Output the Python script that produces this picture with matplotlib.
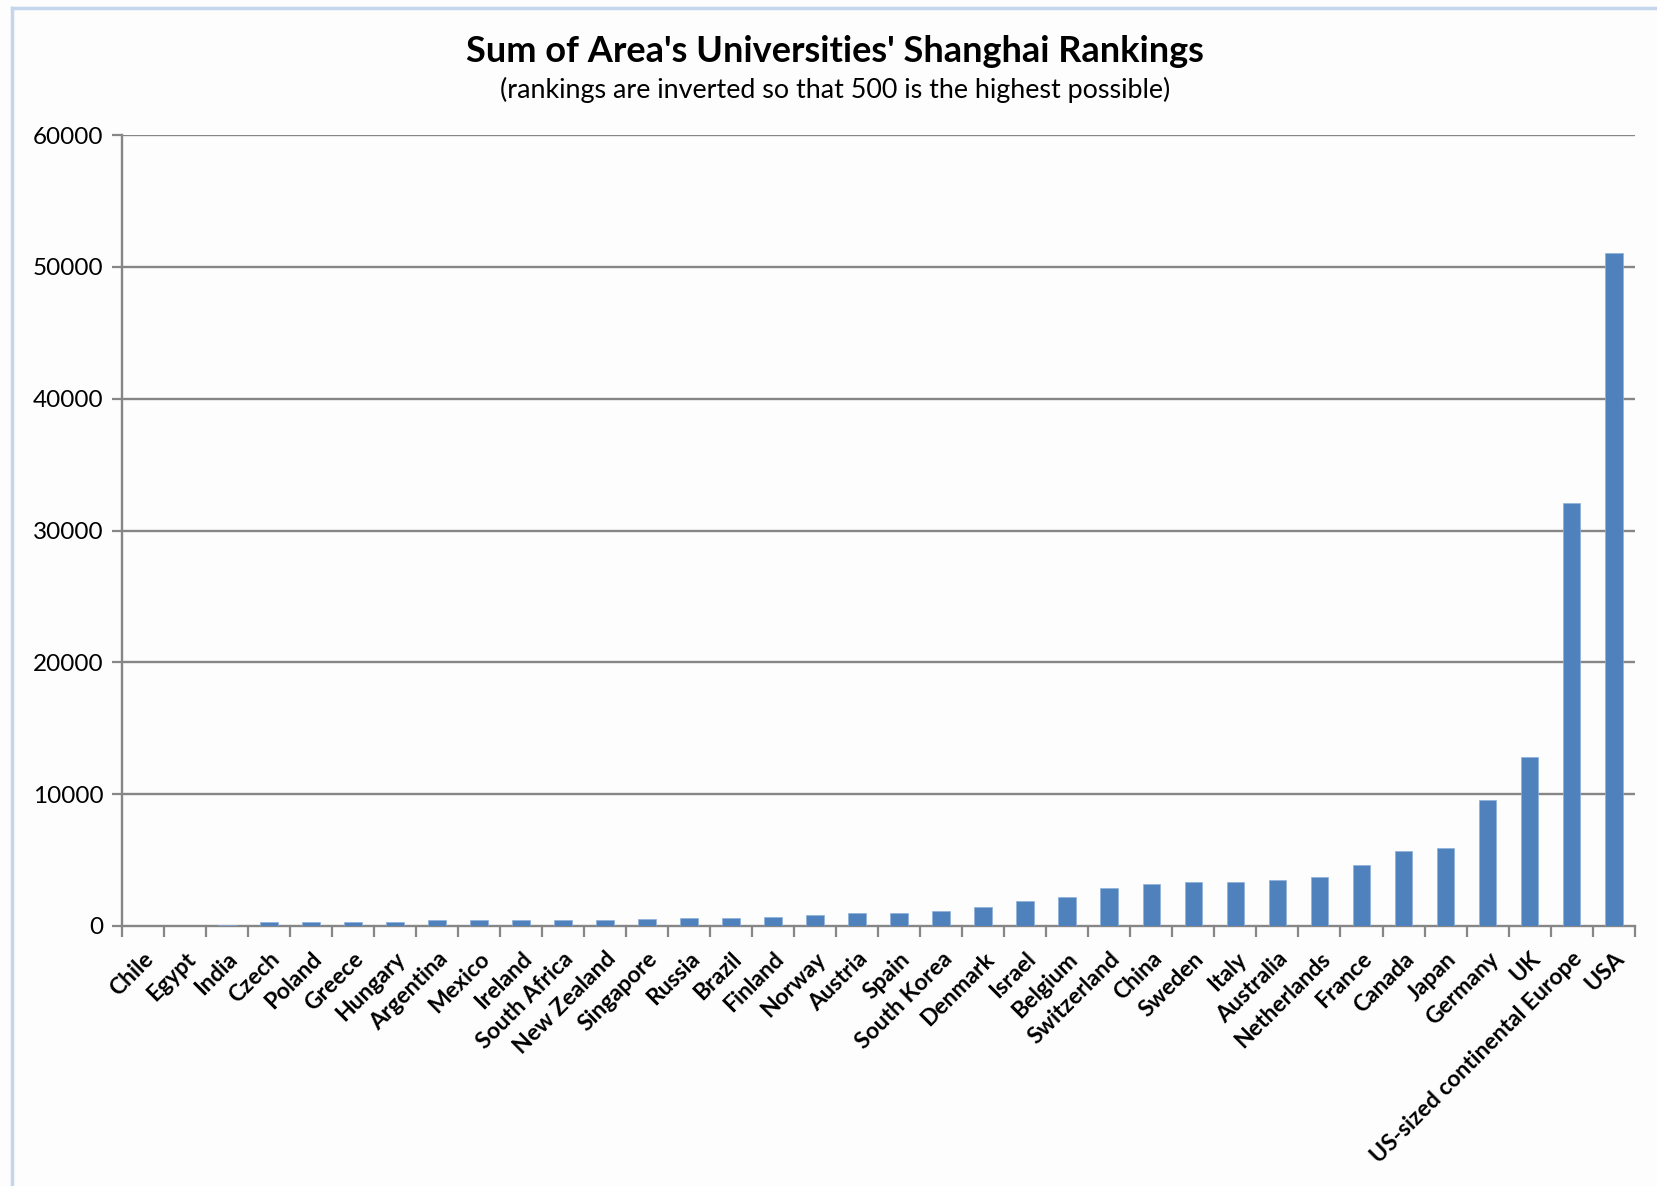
import numpy as np
import matplotlib
matplotlib.use('Agg')
import matplotlib.pyplot as plt
from matplotlib.lines import Line2D

# data
countries = ['Chile', 'Egypt', 'India', 'Czech', 'Poland', 'Greece', 'Hungary',
             'Argentina', 'Mexico', 'Ireland', 'South Africa', 'New Zealand',
             'Singapore', 'Russia', 'Brazil', 'Finland', 'Norway', 'Austria',
             'Spain', 'South Korea', 'Denmark', 'Israel', 'Belgium', 'Switzerland',
             'China', 'Sweden', 'Italy', 'Australia', 'Netherlands', 'France',
             'Canada', 'Japan', 'Germany', 'UK', 'US-sized continental Europe', 'USA']
scores = [0, 0, 110, 280, 280, 280, 280,
          430, 430, 430, 430, 460,
          500, 630, 630, 690, 810, 1010,
          1010, 1140, 1470, 1920, 2200, 2910,
          3170, 3370, 3370, 3490, 3700, 4660,
          5720, 5920, 9550, 12820, 32090, 51080]
y_ticks = [0, 10000, 20000, 30000, 40000, 50000, 60000]

title = "Sum of Area's Universities' Shanghai Rankings"
subtitle = "(rankings are inverted so that 500 is the highest possible)"

plt.rcParams['font.family'] = ['Lato', 'DejaVu Sans']

W, H = 1658, 1186
fig = plt.figure(figsize=(W / 100, H / 100), dpi=100)
fig.patch.set_facecolor('#fdfdfd')

ax = fig.add_axes([121.6 / W, 1 - 926 / H, (1634.7 - 121.6) / W, (926 - 135) / H])
ax.set_facecolor('#fdfdfd')

x = np.arange(len(countries))
ax.bar(x, scores, width=0.42, color='#4f81bd', edgecolor='#8fb0d8', linewidth=0.5, zorder=3)

grid_c = '#868686'
ax.set_ylim(0, 60000)
ax.set_xlim(-0.5, len(countries) - 0.5)
ax.set_yticks(y_ticks)
ax.set_yticklabels([str(v) for v in y_ticks], fontsize=17.5)
for v in y_ticks[1:]:
    ax.axhline(v, color=grid_c, lw=1.7, zorder=1)

ax.set_xticks(x)
ax.set_xticklabels(countries, rotation=45, ha='right', rotation_mode='anchor',
                   fontsize=16.5, fontweight='bold')
ax.set_xticks(np.arange(-0.5, len(countries)), minor=True)
ax.tick_params(axis='x', which='major', length=0, pad=16)
ax.tick_params(axis='x', which='minor', length=8, width=1.6, color=grid_c)
ax.tick_params(axis='y', length=7, width=1.6, color=grid_c, pad=6)

for s in ['top', 'right']:
    ax.spines[s].set_visible(False)
for s in ['left', 'bottom']:
    ax.spines[s].set_color(grid_c)
    ax.spines[s].set_linewidth(1.7)

fig.text(835 / W, 1 - 52 / H, title, ha='center', va='center', fontsize=26, fontweight='bold')
fig.text(835 / W, 1 - 90 / H, subtitle, ha='center', va='center', fontsize=19.4)

# light blue frame edges
fig.add_artist(Line2D([12.5 / W, 12.5 / W], [0, 1 - 8 / H], color='#c5d5ec', lw=2.5))
fig.add_artist(Line2D([12.5 / W, 1], [1 - 8 / H, 1 - 8 / H], color='#c5d5ec', lw=2.5))

fig.savefig('out.png', dpi=100, facecolor=fig.get_facecolor())
